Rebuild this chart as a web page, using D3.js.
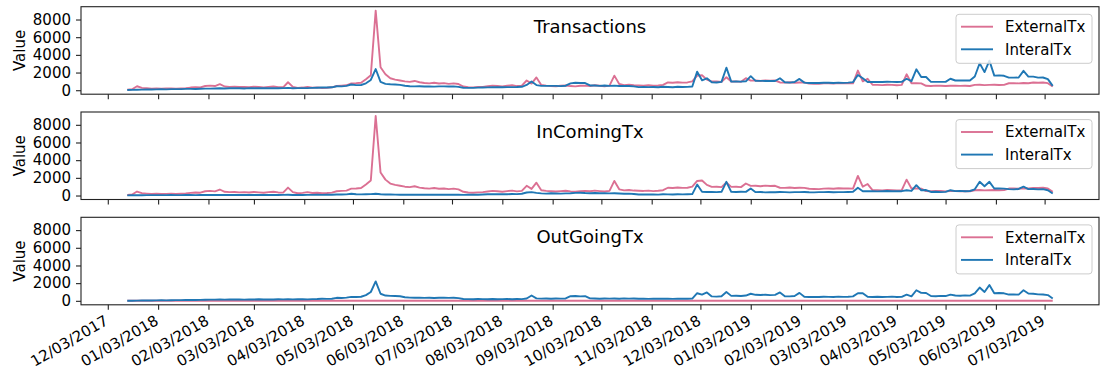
<!DOCTYPE html>
<html><head><meta charset="utf-8">
<script src="https://cdn.jsdelivr.net/npm/d3@7"></script>
<style>
body{margin:0;background:#fff;}
svg text{font-family:"DejaVu Sans",sans-serif;fill:#000;}
</style></head><body>
<svg id="chart" width="1101" height="377"></svg>
<script>
// Daily activity sampled every 3 days, starting 2017-12-15
const startDate = "2017-12-15";
const stepDays = 3;
const panelTitles = ["Transactions", "InComingTx", "OutGoingTx"];
const seriesNames = ["ExternalTx", "InteralTx"];
const seriesColors = ["#db7093", "#1f77b4"];
const yTicks = [0, 2000, 4000, 6000, 8000];

// incoming, external
const inExt = [
  60,110,450,260,220,180,200,170,190,210,
  180,200,230,300,340,320,480,520,470,680,
  420,380,400,360,380,340,400,360,320,380,
  420,350,330,900,380,260,300,380,280,320,
  250,280,330,480,520,560,780,800,850,1250,
  1700,9000,2600,1800,1350,1200,1100,1000,950,1050,
  900,820,780,850,760,800,720,780,700,420,
  340,320,360,380,450,520,480,430,500,560,
  470,520,1100,750,1450,600,520,480,450,500,
  540,470,430,500,520,480,560,500,450,520,
  1650,700,580,620,560,540,520,560,500,540,
  600,880,850,900,860,880,1000,1650,1700,1200,
  980,1000,950,1470,980,1000,950,1360,1090,1100,
  1050,1120,1080,1100,880,860,900,850,880,870,
  760,740,720,780,790,760,820,790,800,780,
  2220,1000,1300,620,600,580,620,600,570,610,
  1800,790,800,780,500,480,520,510,470,500,
  520,490,510,480,600,620,580,600,620,590,
  610,790,800,770,810,790,870,850,880,800,
  410
];
// incoming, internal
const inInt = [
  20,30,40,35,50,40,45,50,40,55,
  50,45,60,55,50,60,65,55,60,70,
  60,65,55,70,60,75,65,60,70,65,
  70,60,75,80,65,70,60,75,70,80,
  75,85,90,110,120,130,200,150,130,140,
  160,200,150,120,110,100,90,100,95,90,
  85,90,80,85,90,80,85,90,80,75,
  80,85,90,120,150,140,160,150,140,170,
  160,200,340,380,300,240,220,250,230,210,
  240,260,300,320,280,260,280,250,270,240,
  260,230,200,220,180,120,110,130,120,100,
  140,130,120,150,130,140,160,1240,420,400,
  410,390,420,1550,410,400,420,410,790,380,
  400,360,390,370,400,380,360,390,380,400,
  370,360,390,380,400,370,390,380,400,420,
  870,490,480,500,470,490,510,480,500,490,
  600,520,1170,600,620,400,420,380,410,600,
  500,520,480,510,700,1550,1050,1550,790,800,
  780,720,700,740,1000,720,740,700,720,600,
  230
];
// outgoing, external
const outExt = [
  0,0,0,0,0,0,0,0,0,0, 0,0,0,0,0,0,0,0,0,0,
  0,0,0,0,0,0,0,0,0,0, 0,0,0,0,0,0,0,0,0,0,
  0,0,0,0,0,0,0,0,0,0, 0,0,0,0,0,0,0,0,0,0,
  0,0,0,0,0,0,0,0,0,0, 0,0,0,0,0,0,0,0,0,0,
  0,0,0,0,0,0,0,0,0,0, 0,0,0,0,0,0,0,0,0,0,
  0,0,0,0,0,0,0,0,0,0, 0,0,0,0,0,0,0,0,0,0,
  0,0,0,0,0,0,0,0,0,0, 0,0,0,0,0,0,0,0,0,0,
  0,0,0,0,0,0,0,0,0,0, 0,0,0,0,0,0,0,0,0,0,
  0,0,0,0,0,0,0,0,0,0, 0,0,0,0,0,0,0,0,0,0,
  0,0,0,0,0,0,0,0,0,0, 0
];
// outgoing, internal
const outInt = [
  0,10,20,30,35,40,50,60,55,70,
  75,80,90,100,95,110,120,130,140,150,
  140,150,160,150,140,160,150,170,150,160,
  150,170,160,180,160,170,180,160,190,200,
  230,220,240,340,320,360,450,430,460,640,
  1000,2200,800,600,560,540,520,400,360,340,
  360,330,350,320,340,360,330,340,300,200,
  190,180,200,190,170,200,180,190,210,180,
  200,190,260,600,280,250,270,240,260,250,
  270,520,540,500,530,280,260,240,270,250,
  260,240,280,250,260,230,250,220,240,230,
  250,240,220,250,230,240,260,860,700,950,
  500,480,520,1000,560,580,550,600,800,680,
  660,690,650,670,950,520,500,540,900,460,
  440,450,430,460,450,440,470,450,460,500,
  860,860,450,430,460,440,450,470,430,450,
  700,500,1200,900,880,550,520,560,540,700,
  600,580,620,590,850,1500,1000,1800,860,880,
  850,710,720,700,1190,830,800,730,720,650,
  260
];

// all transactions = incoming + outgoing
const txExt = inExt.map((v, i) => v + outExt[i]);
const txInt = inInt.map((v, i) => v + outInt[i]);

const panels = [
  {title: panelTitles[0], series: [txExt, txInt]},
  {title: panelTitles[1], series: [inExt, inInt]},
  {title: panelTitles[2], series: [outExt, outInt]}
];

const t0 = d3.utcParse("%Y-%m-%d")(startDate);
const dates = inExt.map((_, i) => d3.utcDay.offset(t0, i * stepDays));

const svg = d3.select("#chart");
const left = 81, right = 1099;
const panelTop = [6.7, 112, 217.3];
const panelH = 87.5;

// 5% padding on both axes
const [d0, d1] = d3.extent(dates);
const span = d1 - d0;
const x = d3.scaleUtc()
  .domain([new Date(+d0 - 0.05 * span), new Date(+d1 + 0.05 * span)])
  .range([left, right]);

const yMax = d3.max(panels.flatMap(p => p.series.flat()));
const yMin = 0;
const yPad = 0.05 * (yMax - yMin);

const xTicks = d3.utcMonth.range(new Date(Date.UTC(2017, 11, 1)), new Date(Date.UTC(2019, 7, 1)))
  .map(d => d3.utcDay.offset(d, 2));
const fmt = d3.utcFormat("%m/%d/%Y");

panels.forEach((p, k) => {
  const top = panelTop[k];
  const y = d3.scaleLinear().domain([yMin - yPad, yMax + yPad]).range([top + panelH, top]);
  const g = svg.append("g");

  const line = d3.line().x((d, i) => x(dates[i])).y(d => y(d));
  p.series.forEach((s, j) => {
    g.append("path").datum(s)
      .attr("d", line)
      .attr("fill", "none")
      .attr("stroke", seriesColors[j])
      .attr("stroke-width", 1.9)
      .attr("stroke-linejoin", "round");
  });

  // frame
  g.append("rect")
    .attr("x", left).attr("y", top)
    .attr("width", right - left).attr("height", panelH)
    .attr("fill", "none").attr("stroke", "#222").attr("stroke-width", 1.1);

  // y axis
  const ya = g.append("g").attr("transform", `translate(${left},0)`)
    .call(d3.axisLeft(y).tickValues(yTicks).tickSize(5).tickPadding(5).tickFormat(d3.format("d")));
  ya.select(".domain").remove();
  ya.selectAll("line").attr("stroke", "#222").attr("stroke-width", 1.1);
  ya.selectAll("text").attr("font-size", 15).attr("font-family", "DejaVu Sans").attr("fill", "#000");

  // x axis
  const xa = g.append("g").attr("transform", `translate(0,${top + panelH})`)
    .call(d3.axisBottom(x).tickValues(xTicks).tickSize(5).tickFormat(k === 2 ? fmt : () => ""));
  xa.select(".domain").remove();
  xa.selectAll("line").attr("stroke", "#222").attr("stroke-width", 1.1);
  if (k === 2) {
    xa.selectAll("text")
      .attr("font-size", 15).attr("font-family", "DejaVu Sans").attr("fill", "#000")
      .attr("text-anchor", "end")
      .attr("y", 0).attr("dy", 0)
      .attr("transform", "translate(1,19) rotate(-30)");
  }

  // y label
  g.append("text")
    .attr("transform", `translate(24.5,${top + panelH / 2}) rotate(-90)`)
    .attr("text-anchor", "middle").attr("font-size", 15)
    .text("Value");

  // panel title
  g.append("text")
    .attr("x", (left + right) / 2).attr("y", top + 26)
    .attr("text-anchor", "middle").attr("font-size", 18)
    .text(p.title);

  // legend
  const lg = g.append("g").attr("transform", `translate(956,${top + 7.6})`);
  lg.append("rect").attr("width", 136).attr("height", 49).attr("rx", 3)
    .attr("fill", "#fff").attr("fill-opacity", 0.8)
    .attr("stroke", "#ccc").attr("stroke-width", 1);
  seriesNames.forEach((n, j) => {
    const ly = 12.4 + j * 22.6;
    lg.append("line").attr("x1", 5).attr("x2", 37).attr("y1", ly).attr("y2", ly)
      .attr("stroke", seriesColors[j]).attr("stroke-width", 1.9);
    lg.append("text").attr("x", 49).attr("y", ly + 5.5).attr("font-size", 15).text(n);
  });
});
</script>
</body></html>
